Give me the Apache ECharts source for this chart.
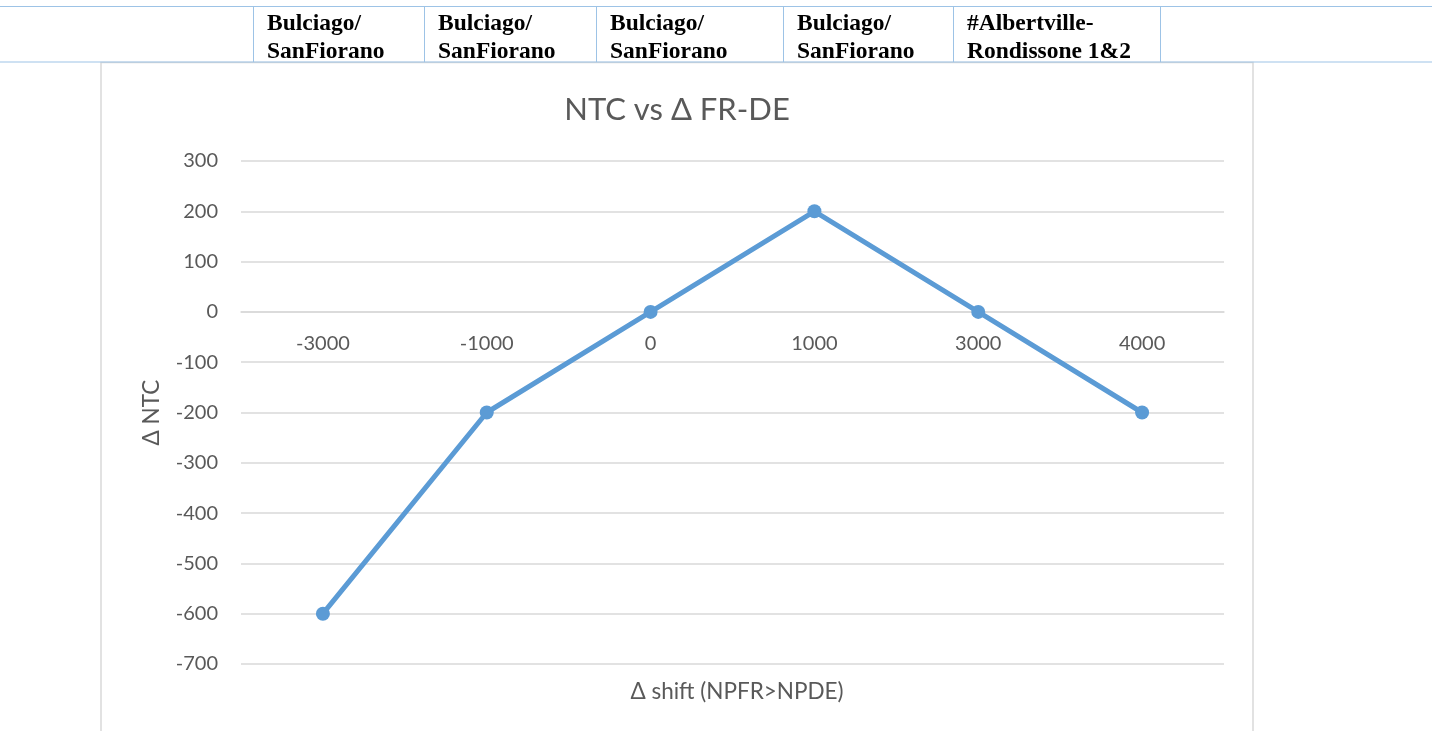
<!DOCTYPE html>
<html>
<head>
<meta charset="utf-8">
<title>NTC vs Δ FR-DE</title>
<script src="https://cdn.jsdelivr.net/npm/echarts@6/dist/echarts.min.js"></script>
<style>
  html, body { margin: 0; padding: 0; background: #fff; }
  #chart { width: 1432px; height: 731px; }
</style>
</head>
<body>
<div id="chart"></div>
<script>
// shift steps on the x axis
const shiftLabels = ["-3000", "-1000", "0", "1000", "3000", "4000"];
// change of NTC per step
const ntcValues = [-600, -200, 0, 200, 0, -200];
// y axis range
const yMin = -700;
const yMax = 300;
const yStep = 100;
// table header above the chart
const tableHeaders = [
  ["Bulciago/", "SanFiorano"],
  ["Bulciago/", "SanFiorano"],
  ["Bulciago/", "SanFiorano"],
  ["Bulciago/", "SanFiorano"],
  ["#Albertville-", "Rondissone 1&2"],
];
const cellEdges = [253, 424, 596, 783, 953, 1160];

const font = "Lato";
const textGrey = "#595959";
const lineGrey = "#d9d9d9";
const tableBlue = "#9dc3e6";

const chart = echarts.init(document.getElementById("chart"));

// table lines and texts, plus the chart frame
const graphics = [
  { type: "line", shape: { x1: 0, y1: 6.5, x2: 1432, y2: 6.5 }, style: { stroke: tableBlue, lineWidth: 1 } },
  { type: "line", shape: { x1: 0, y1: 62, x2: 1432, y2: 62 }, style: { stroke: tableBlue, lineWidth: 1 } },
];
cellEdges.forEach((x) => {
  graphics.push({
    type: "line",
    shape: { x1: x + 0.5, y1: 6.5, x2: x + 0.5, y2: 62 },
    style: { stroke: tableBlue, lineWidth: 1 },
  });
});
tableHeaders.forEach((lines, i) => {
  graphics.push({
    type: "text",
    x: cellEdges[i] + 14,
    y: 10,
    style: {
      text: lines.join("\n"),
      font: 'bold 23.5px "Liberation Serif"',
      lineHeight: 28,
      fill: "#000",
    },
  });
});
graphics.push({
  type: "rect",
  shape: { x: 101, y: 62.5, width: 1152, height: 720 },
  style: { fill: "#fff", stroke: lineGrey, lineWidth: 1.5 },
  z: -1,
});

const labelStyle = {
  fontFamily: font,
  fontSize: 20,
  color: textGrey,
};
const nameStyle = {
  fontFamily: font,
  fontSize: 22.5,
  color: textGrey,
};

chart.setOption({
  backgroundColor: "#fff",
  animation: false,
  graphic: graphics,
  title: [
    {
      text: "NTC vs Δ FR-DE",
      left: 672,
      top: 89,
      textAlign: "center",
      textStyle: {
        fontFamily: font,
        fontWeight: "normal",
        fontSize: 31,
        color: textGrey,
      },
    },
    {
      // x axis name sits under the plot, the axis itself crosses at zero
      text: "Δ shift (NPFR>NPDE)",
      left: 732,
      top: 675,
      textAlign: "center",
      textStyle: Object.assign({ fontWeight: "normal" }, nameStyle),
    },
  ],
  grid: {
    left: 241,
    right: 208,
    top: 161,
    bottom: 67,
  },
  xAxis: {
    type: "category",
    data: shiftLabels,
    axisLine: { onZero: false, lineStyle: { color: lineGrey, width: 1.5 } },
    axisTick: { show: false },
    axisLabel: Object.assign({ margin: 22 }, labelStyle),
  },
  yAxis: {
    type: "value",
    min: yMin,
    max: yMax,
    interval: yStep,
    name: "Δ NTC",
    nameLocation: "middle",
    nameGap: 78,
    nameTextStyle: nameStyle,
    axisLine: { show: false },
    axisTick: { show: false },
    axisLabel: Object.assign({ margin: 23 }, labelStyle),
    splitLine: { lineStyle: { color: lineGrey, width: 1.5 } },
  },
  series: [
    {
      name: "Δ NTC",
      type: "line",
      data: ntcValues,
      symbol: "circle",
      symbolSize: 14,
      lineStyle: { color: "#5b9bd5", width: 5 },
      itemStyle: { color: "#5b9bd5" },
    },
  ],
});

// move the category axis up to where the value axis crosses zero
const zeroY = chart.convertToPixel({ yAxisIndex: 0 }, 0);
const bottomY = chart.convertToPixel({ yAxisIndex: 0 }, yMin);
chart.setOption({ xAxis: { offset: zeroY - bottomY } });
</script>
</body>
</html>
